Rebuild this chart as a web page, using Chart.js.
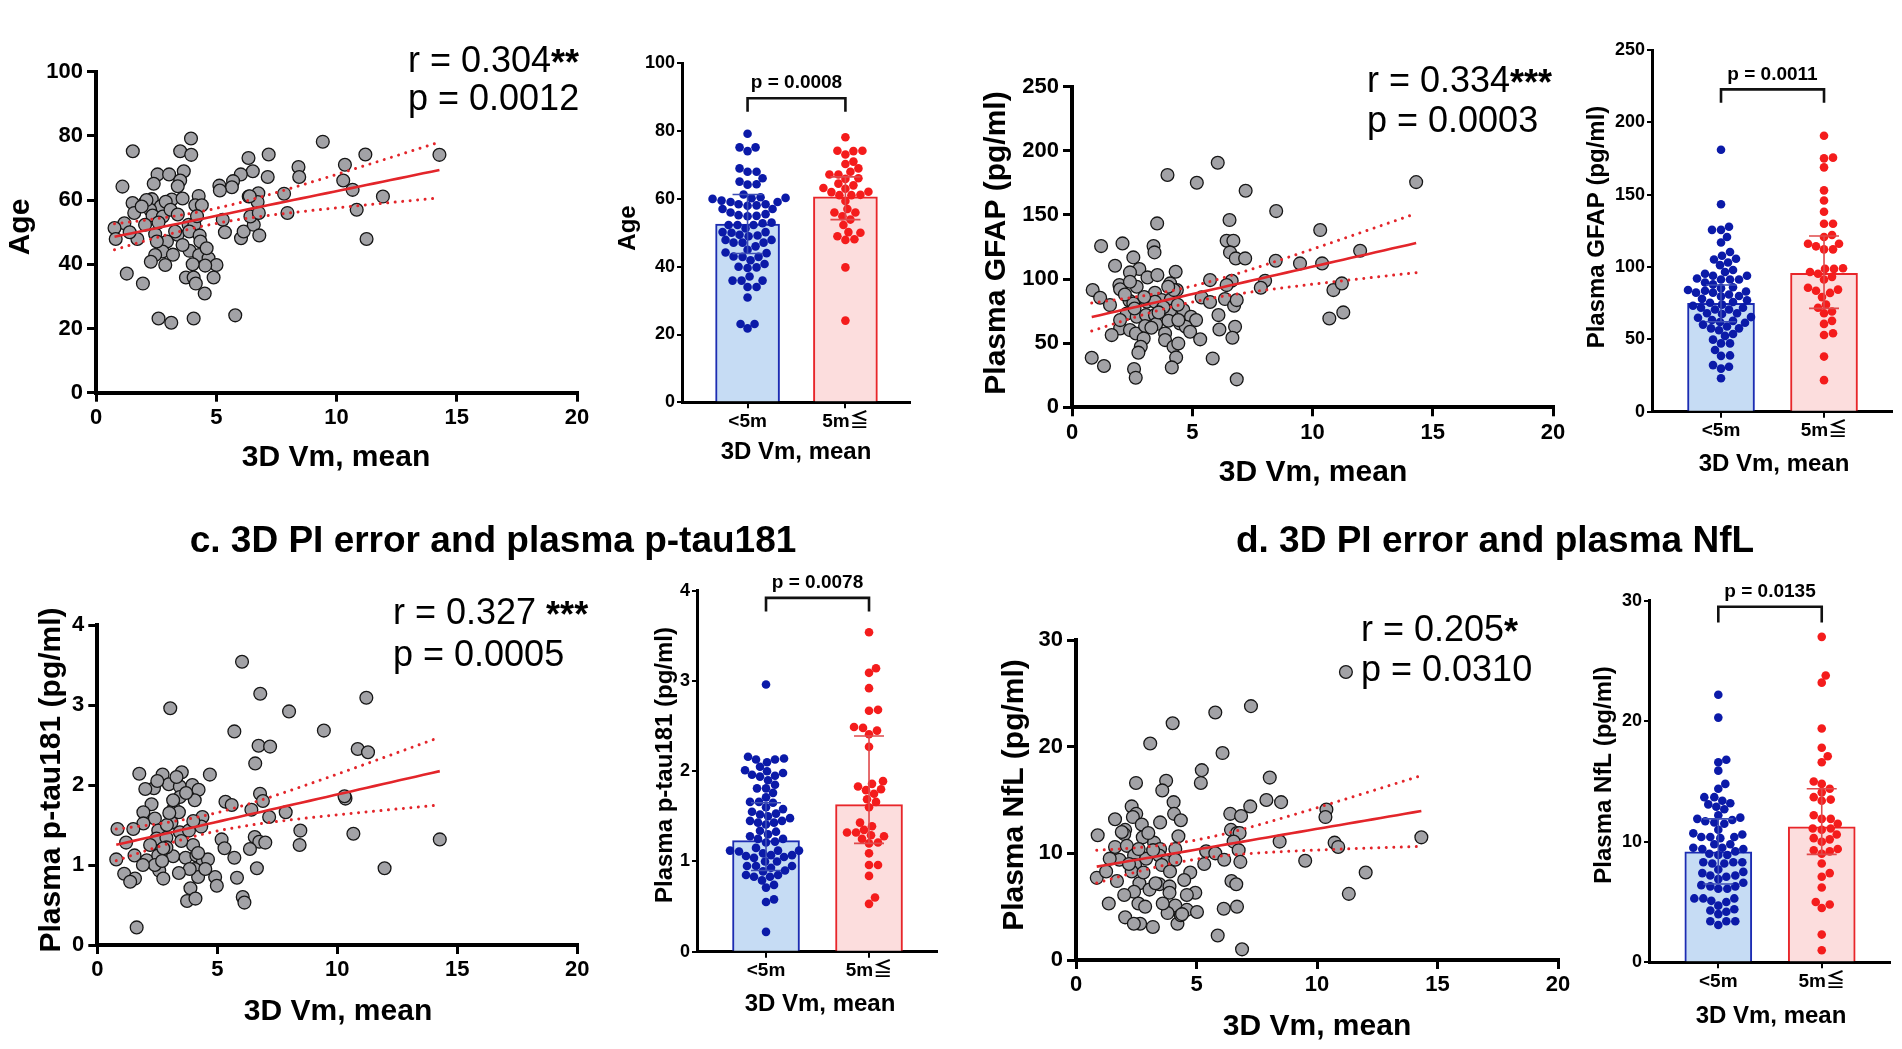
<!DOCTYPE html>
<html>
<head>
<meta charset="utf-8">
<script src="https://cdn.jsdelivr.net/npm/chart.js@4.4.1/dist/chart.umd.min.js"></script>
<style>
  body { margin: 0; background: #fff; width: 1902px; height: 1049px; overflow: hidden; position: relative; }
  canvas { position: absolute; left: 0; top: 0; }
</style>
</head>
<body>
<canvas id="scatterA" width="1902" height="1049"></canvas>
<canvas id="barA" width="1902" height="1049"></canvas>
<canvas id="scatterB" width="1902" height="1049"></canvas>
<canvas id="barB" width="1902" height="1049"></canvas>
<canvas id="scatterC" width="1902" height="1049"></canvas>
<canvas id="barC" width="1902" height="1049"></canvas>
<canvas id="scatterD" width="1902" height="1049"></canvas>
<canvas id="barD" width="1902" height="1049"></canvas>
<script>
// ---- data ----
const vmTicks = [0, 5, 10, 15, 20];
const groupLabels = ['<5m', '5m\u2266'];

// a. Age
const ageVm = [3.95,1.53,3.50,3.96,9.43,7.18,6.34,11.2,14.28,10.35,8.42,8.45,6.52,6.02,5.70,5.65,7.14,5.13,5.15,10.28,10.67,11.93,7.82,6.75,6.35,6.72,3.65,2.56,3.04,3.50,2.40,3.40,1.10,3.15,4.27,2.32,1.52,2.02,2.70,4.13,4.40,1.59,2.25,2.35,2.78,1.18,0.77,0.82,1.72,2.04,2.46,2.95,3.39,3.85,4.09,3.88,4.31,4.34,3.89,4.29,4.68,5.01,4.54,4.02,2.77,2.46,2.28,2.88,3.74,4.06,4.15,4.52,4.89,1.28,1.95,2.60,3.13,4.06,5.79,5.27,5.36,6.03,6.14,6.56,6.79,6.42,6.77,6.39,7.96,10.84,11.25,3.29,2.53,2.10,2.90,3.60,1.90,3.10,4.20,3.40,2.60,1.40,3.60,4.60,3.20];
const ageVal = [79.2,75.2,75.2,74.1,78.2,74.2,73.1,74.2,74.1,71.0,70.3,67.2,69.0,68.0,65.9,64.0,67.2,64.5,63.0,66.1,63.2,61.1,62.0,62.1,61.1,59.4,69.0,68.0,68.0,66.1,65.1,64.3,64.2,60.2,61.3,60.3,59.1,59.1,58.1,58.4,58.4,56.0,57.0,55.2,54.9,52.8,51.3,47.9,47.9,52.3,49.4,47.1,49.2,52.3,52.3,50.2,49.0,47.1,44.2,42.9,41.9,39.8,39.6,40.0,44.0,42.9,40.8,39.8,35.9,35.9,34.0,30.9,35.9,37.1,34.0,23.1,21.8,23.1,24.1,53.9,50.0,48.1,50.2,52.3,49.0,54.9,56.0,61.2,56.0,57.0,47.9,50.2,47.1,60.0,59.5,60.5,58.0,57.0,55.0,55.5,53.0,50.0,46.0,45.0,43.0];
const ageBar = [52.6, 60.6];
const ageBarLo = [43.9, 53.9];
const ageBarHi = [61.3, 66.5];

// b. Plasma GFAP
const gfapVm = [6.06,3.97,5.19,7.22,14.31,8.49,3.54,6.55,10.32,1.21,2.10,3.39,3.43,6.43,6.71,6.57,6.81,7.20,8.47,9.48,10.40,11.98,2.55,1.79,2.80,2.41,3.14,3.55,4.31,1.97,2.00,2.69,4.08,4.36,5.74,6.64,6.43,8.03,7.85,0.86,1.17,1.58,2.39,2.55,3.45,3.73,4.11,4.24,5.39,5.74,6.36,6.74,6.85,10.87,11.22,10.70,11.28,2.28,2.69,3.08,3.45,4.08,4.63,4.95,5.16,6.09,2.00,1.65,2.41,2.66,3.04,3.50,4.01,4.49,4.73,4.91,3.87,5.33,6.13,6.78,6.67,2.98,2.86,2.76,3.87,4.22,4.42,4.33,4.15,5.85,0.82,1.33,2.58,2.65,6.85,3.11,3.45,2.41,4.42,2.2,3.0,3.8,2.6,4.4,3.3,2.0,4.0,3.6];
const gfapVal = [190.7,181.1,175.1,168.9,175.6,153.0,143.4,146.0,138.2,125.7,127.8,125.7,120.8,129.9,129.9,120.8,116.1,116.1,114.3,112.2,112.2,122.1,116.9,110.4,107.8,105.2,101.3,103.1,105.7,95.3,92.1,94.0,96.6,91.4,99.2,98.7,95.3,98.7,93.2,91.4,85.4,79.7,83.1,81.0,89.3,83.6,84.1,91.4,85.7,82.1,84.4,79.2,83.6,91.4,96.6,69.3,74.0,73.2,70.6,71.9,71.9,75.3,75.8,70.6,68.0,71.9,61.5,56.3,60.2,57.6,63.4,64.9,67.5,65.4,62.8,58.9,57.6,53.0,60.7,62.8,54.2,53.7,47.2,42.6,52.4,47.2,49.8,38.9,31.1,38.1,38.6,32.2,29.8,23.1,21.8,82.3,82.3,97.9,68.0,88,86,78,77,80,62,68,94,74];
const gfapBar = [74.9, 95.6];
const gfapBarLo = [62.2, 71.4];
const gfapBarHi = [87.6, 121.4];

// c. Plasma p-tau181
const ptauVm = [6.03,6.79,3.04,11.21,7.99,5.71,9.44,6.72,7.20,6.58,10.85,11.28,1.75,2.72,3.52,4.69,2.36,2.98,3.44,3.96,4.22,3.44,4.06,5.34,6.78,6.42,7.16,7.85,10.34,2.26,1.92,3.19,3.40,2.40,1.92,3.09,4.38,0.84,2.54,3.44,3.82,4.33,1.20,2.47,2.88,3.99,5.18,5.30,6.56,6.75,6.36,8.46,8.43,10.67,14.27,0.79,1.55,2.06,2.54,3.16,3.68,4.13,4.40,4.61,5.71,6.65,11.97,1.12,1.57,2.58,2.75,4.06,4.20,4.91,4.98,5.82,3.88,3.74,4.09,6.06,6.13,1.64,1.37,2.40,2.88,3.16,2.75,3.85,6.9,5.6,7.0,10.3,2.0,2.5,3.3,3.7,2.9,3.5,4.2,1.9,2.7,3.4,4.5,2.2,3.0,4.0,1.5];
const ptauVal = [3.54,3.14,2.96,3.09,2.92,2.67,2.68,2.49,2.48,2.27,2.45,2.41,2.14,2.13,2.16,2.13,1.96,2.01,1.98,2.00,1.94,1.85,1.81,1.79,1.89,1.69,1.60,1.66,1.83,1.76,1.66,1.71,1.66,1.58,1.52,1.53,1.60,1.45,1.43,1.41,1.43,1.48,1.28,1.33,1.34,1.25,1.32,1.21,1.35,1.29,1.20,1.43,1.25,1.39,1.32,1.07,1.12,1.06,1.12,1.11,1.09,1.12,1.04,1.07,1.09,0.96,0.96,0.89,0.83,0.93,0.83,0.95,0.85,0.85,0.74,0.84,0.71,0.55,0.58,0.60,0.53,0.22,0.79,1.00,1.22,1.81,1.21,0.95,1.80,1.75,1.28,1.86,1.95,2.05,2.10,1.90,1.50,1.30,1.15,1.00,1.05,0.90,0.95,1.25,1.65,1.55,1.45];
const ptauBar = [1.23, 1.63];
const ptauBarLo = [0.90, 1.20];
const ptauBarHi = [1.65, 2.39];

// d. Plasma NfL
const nflVm = [7.26,5.78,4.01,3.08,6.08,5.22,5.18,8.04,2.49,3.74,3.58,7.90,8.51,4.05,2.31,2.50,2.36,1.62,2.73,3.49,4.07,4.35,6.40,6.85,7.23,10.39,10.35,2.04,2.00,2.77,4.25,6.43,6.68,6.79,0.90,3.24,1.62,2.11,3.49,4.12,5.40,5.78,6.54,6.75,8.45,10.73,10.88,14.33,1.80,2.41,2.91,3.45,3.74,4.12,2.45,3.56,5.32,6.15,6.82,9.51,0.86,1.25,2.31,4.74,4.49,2.63,3.46,3.88,6.45,6.65,12.02,2.41,3.05,3.88,4.95,11.32,1.36,2.59,2.87,4.12,4.60,5.02,6.13,6.68,3.80,2.04,2.66,3.19,4.21,4.35,5.88,6.89,11.2,1.9,3.0,2.6,3.2,1.4,2.2,3.9,2.8,1.7,3.3,4.6,2.0,3.6,4.4,2.4];
const nflVal = [23.8,23.2,22.2,20.3,19.4,17.8,16.6,17.1,16.6,16.8,15.9,15.0,14.8,14.8,14.4,13.7,13.4,13.2,12.7,12.9,13.7,13.1,13.7,13.5,14.4,14.1,13.4,12.2,11.8,11.5,11.6,12.2,11.9,11.9,11.7,11.0,10.6,10.7,10.4,10.4,10.2,10.0,11.1,10.3,11.1,11.0,10.6,11.5,9.4,9.8,9.5,9.8,9.2,9.4,8.9,8.9,9.0,9.4,9.2,9.3,7.7,8.3,8.3,8.2,7.5,7.2,7.1,6.9,7.4,7.1,8.2,6.4,6.6,6.3,6.3,6.2,5.3,5.3,5.0,5.1,4.7,4.5,4.8,5.0,4.4,4.0,3.4,3.1,3.4,4.2,2.3,1.0,27.0,12.0,11.9,10.4,10.3,9.5,9.0,8.3,8.2,7.4,7.2,6.1,6.1,5.3,4.3,3.4];
const nflBar = [9.17, 11.24];
const nflBarLo = [6.5, 8.95];
const nflBarHi = [11.9, 14.4];

// ---- look ----
const W = 1902, H = 1049;
const FONT = "'Liberation Sans', Arial, 'Noto Sans CJK JP', sans-serif";
const RED = '#e3252a';
const GRAY = '#a2a2a6';
const BLUE_DOT = '#0b1aa8', RED_DOT = '#f41c1c';
const BLUE_FILL = '#c6dcf4', RED_FILL = '#fcdddd';
const BLUE_EDGE = '#1c2cb2', RED_EDGE = '#e8262a';
const BLUE_ERR = '#3c4db6', RED_ERR = '#e0494b';
const XMIN = -0.67, XMAX = 1.66;

function padFor(box, yW, xH) {
  return { left: box.l - yW, right: W - box.r, top: box.t, bottom: H - box.b - xH };
}

// least squares fit with 95% band, from the points themselves
function regression(xs, ys) {
  const n = xs.length;
  const mx = xs.reduce((a, b) => a + b, 0) / n;
  const my = ys.reduce((a, b) => a + b, 0) / n;
  let sxx = 0, sxy = 0;
  xs.forEach((x, i) => { sxx += (x - mx) ** 2; sxy += (x - mx) * (ys[i] - my); });
  const b = sxy / sxx, a = my - b * mx;
  let sse = 0;
  xs.forEach((x, i) => { sse += (ys[i] - a - b * x) ** 2; });
  const s = Math.sqrt(sse / (n - 2)), t = 1.983;
  const lo = Math.min(...xs), hi = Math.max(...xs);
  const line = [], up = [], dn = [];
  for (let i = 0; i <= 40; i++) {
    const x = lo + (hi - lo) * i / 40;
    const yh = a + b * x;
    const se = s * Math.sqrt(1 / n + (x - mx) ** 2 / sxx);
    line.push({ x, y: yh }); up.push({ x, y: yh + t * se }); dn.push({ x, y: yh - t * se });
  }
  return { line, up, dn };
}

// simple beeswarm, offsets found in pixels
function swarm(vals, center, pxY, pxX, minD) {
  const idx = vals.map((v, i) => i).sort((a, b) => vals[a] - vals[b]);
  const placed = [], out = [];
  idx.forEach(i => {
    const py = vals[i] * pxY;
    for (let k = 0; k < 400; k++) {
      const off = (k % 2 ? 1 : -1) * Math.ceil(k / 2);
      if (placed.every(p => (p.x - off) ** 2 + (p.y - py) ** 2 >= minD * minD)) {
        placed.push({ x: off, y: py });
        out.push({ x: center + off / pxX, y: vals[i] });
        break;
      }
    }
  });
  return out;
}

const textPlugin = {
  id: 'panelText',
  afterDraw(chart, args, opts) {
    const ctx = chart.ctx;
    (opts.items || []).forEach(it => {
      ctx.save();
      ctx.translate(it.x, it.y);
      if (it.rot) ctx.rotate(-Math.PI / 2);
      ctx.fillStyle = '#000';
      ctx.textBaseline = 'middle';
      ctx.textAlign = 'left';
      const mainFont = (it.bold ? 'bold ' : '') + it.size + 'px ' + FONT;
      const sufFont = 'bold ' + it.size + 'px ' + FONT;
      ctx.font = mainFont;
      const w1 = ctx.measureText(it.t).width;
      ctx.font = sufFont;
      const w2 = it.suffix ? ctx.measureText(it.suffix).width : 0;
      let x0 = it.align === 'center' ? -(w1 + w2) / 2 : 0;
      ctx.font = mainFont;
      ctx.fillText(it.t, x0, 0);
      if (it.suffix) { ctx.font = sufFont; ctx.fillText(it.suffix, x0 + w1, 3); }
      ctx.restore();
    });
  }
};

const barMarks = {
  id: 'barMarks',
  afterDatasetsDraw(chart, args, o) {
    const ctx = chart.ctx, xs = chart.scales.x, ys = chart.scales.y;
    [0, 1].forEach(i => {
      const x = xs.getPixelForValue(i);
      const y1 = ys.getPixelForValue(o.lo[i]), y2 = ys.getPixelForValue(o.hi[i]);
      ctx.save();
      ctx.strokeStyle = i === 0 ? BLUE_ERR : RED_ERR;
      ctx.lineWidth = 1.6;
      ctx.beginPath();
      ctx.moveTo(x, y1); ctx.lineTo(x, y2);
      ctx.moveTo(x - 15, y1); ctx.lineTo(x + 15, y1);
      ctx.moveTo(x - 15, y2); ctx.lineTo(x + 15, y2);
      ctx.stroke();
      ctx.restore();
    });
    const xa = xs.getPixelForValue(0), xb = xs.getPixelForValue(1);
    const yt = ys.getPixelForValue(o.bracket[0]), ye = ys.getPixelForValue(o.bracket[1]);
    ctx.save();
    ctx.strokeStyle = '#111';
    ctx.lineWidth = 2.6;
    ctx.beginPath();
    ctx.moveTo(xa, ye); ctx.lineTo(xa, yt); ctx.lineTo(xb, yt); ctx.lineTo(xb, ye);
    ctx.stroke();
    ctx.fillStyle = '#000';
    ctx.font = 'bold 19px ' + FONT;
    ctx.textAlign = 'center';
    ctx.textBaseline = 'middle';
    ctx.fillText(o.p, (xa + xb) / 2, yt - 15);
    ctx.restore();
  }
};

function scatterChart(id, p) {
  const fit = regression(p.xs, p.ys);
  const tickFont = { family: FONT, size: 22, weight: 'bold' };
  new Chart(document.getElementById(id), {
    type: 'scatter',
    data: {
      datasets: [
        { type: 'line', data: fit.line, borderColor: RED, borderWidth: 2.6, pointRadius: 0, fill: false, clip: false },
        { type: 'line', data: fit.up, borderColor: RED, borderWidth: 3, borderDash: [0.01, 7.5], borderCapStyle: 'round', pointRadius: 0, fill: false, clip: false },
        { type: 'line', data: fit.dn, borderColor: RED, borderWidth: 3, borderDash: [0.01, 7.5], borderCapStyle: 'round', pointRadius: 0, fill: false, clip: false },
        { data: p.xs.map((x, i) => ({ x, y: p.ys[i] })), backgroundColor: GRAY, borderColor: '#161616', borderWidth: 1.3, pointRadius: 6.4, clip: false }
      ]
    },
    options: {
      responsive: false, animation: false, events: [],
      layout: { padding: padFor(p.box, 70, 50) },
      plugins: { legend: { display: false }, tooltip: { enabled: false }, panelText: { items: p.texts } },
      scales: {
        x: {
          type: 'linear', min: 0, max: 20,
          afterBuildTicks: s => { s.ticks = vmTicks.map(v => ({ value: v })); },
          afterFit: s => { s.height = 50; },
          border: { display: true, color: '#000', width: 4 },
          grid: { drawOnChartArea: false, color: '#000', lineWidth: 3, tickLength: 9 },
          ticks: { font: tickFont, color: '#000', padding: 3, maxRotation: 0 }
        },
        y: {
          type: 'linear', min: 0, max: p.yMax,
          afterFit: s => { s.width = 70; },
          border: { display: true, color: '#000', width: 4 },
          grid: { drawOnChartArea: false, color: '#000', lineWidth: 3, tickLength: 9 },
          ticks: { font: tickFont, color: '#000', padding: 4, stepSize: p.yStep }
        }
      }
    },
    plugins: [textPlugin]
  });
}

function barChart(id, p) {
  const box = p.box;
  const pxX = (box.r - box.l) / (XMAX - XMIN);
  const pxY = (box.b - box.t) / p.yMax;
  const g0 = p.ys.filter((v, i) => p.xs[i] < 5);
  const g1 = p.ys.filter((v, i) => p.xs[i] >= 5);
  const tickFont = { family: FONT, size: 18, weight: 'bold' };
  new Chart(document.getElementById(id), {
    type: 'scatter',
    data: {
      datasets: [
        { data: swarm(g0, 0, pxY, pxX, 8.2), backgroundColor: BLUE_DOT, borderWidth: 0, pointRadius: 4.3, clip: false },
        { data: swarm(g1, 1, pxY, pxX, 8.2), backgroundColor: RED_DOT, borderWidth: 0, pointRadius: 4.3, clip: false },
        { type: 'bar', data: p.bar.map((v, i) => ({ x: i, y: v })), backgroundColor: [BLUE_FILL, RED_FILL],
          borderColor: [BLUE_EDGE, RED_EDGE], borderWidth: 2, barThickness: p.barW }
      ]
    },
    options: {
      responsive: false, animation: false, events: [],
      layout: { padding: padFor(box, 60, 40) },
      plugins: {
        legend: { display: false }, tooltip: { enabled: false },
        panelText: { items: p.texts },
        barMarks: { lo: p.lo, hi: p.hi, bracket: p.bracket, p: p.p }
      },
      scales: {
        x: {
          type: 'linear', min: XMIN, max: XMAX, offset: false,
          afterBuildTicks: s => { s.ticks = [{ value: 0 }, { value: 1 }]; },
          afterFit: s => { s.height = 40; },
          border: { display: true, color: '#000', width: 3 },
          grid: { drawOnChartArea: false, offset: false, color: '#000', lineWidth: 2, tickLength: 6 },
          ticks: { font: { family: FONT, size: 19, weight: 'bold' }, color: '#000', padding: 2, maxRotation: 0,
                   callback: v => groupLabels[v] }
        },
        y: {
          type: 'linear', min: 0, max: p.yMax,
          afterFit: s => { s.width = 60; },
          border: { display: true, color: '#000', width: 3 },
          grid: { drawOnChartArea: false, color: '#000', lineWidth: 2, tickLength: 5 },
          ticks: { font: tickFont, color: '#000', padding: 2, stepSize: p.yStep }
        }
      }
    },
    plugins: [textPlugin, barMarks]
  });
}

const xTitle = '3D Vm, mean';

// panel a
scatterChart('scatterA', {
  xs: ageVm, ys: ageVal, yMax: 100, yStep: 20,
  box: { l: 96, r: 577, t: 71.7, b: 392.7 },
  texts: [
    { t: 'r = 0.304', suffix: '**', x: 408, y: 62, size: 36 },
    { t: 'p = 0.0012', x: 408, y: 100, size: 36 },
    { t: 'Age', x: 21, y: 227, size: 30, bold: true, rot: true, align: 'center' },
    { t: xTitle, x: 336, y: 458, size: 30, bold: true, align: 'center' }
  ]
});
barChart('barA', {
  xs: ageVm, ys: ageVal, yMax: 100, yStep: 20, barW: 64,
  bar: ageBar, lo: ageBarLo, hi: ageBarHi, bracket: [89.7, 85.7], p: 'p = 0.0008',
  box: { l: 682, r: 910, t: 63.3, b: 402.3 },
  texts: [
    { t: 'Age', x: 628, y: 228, size: 24, bold: true, rot: true, align: 'center' },
    { t: xTitle, x: 796, y: 452, size: 24, bold: true, align: 'center' }
  ]
});

// panel b
scatterChart('scatterB', {
  xs: gfapVm, ys: gfapVal, yMax: 250, yStep: 50,
  box: { l: 1072, r: 1553, t: 86.7, b: 407.3 },
  texts: [
    { t: 'r = 0.334', suffix: '***', x: 1367, y: 82, size: 36 },
    { t: 'p = 0.0003', x: 1367, y: 122, size: 36 },
    { t: 'Plasma GFAP (pg/ml)', x: 997, y: 243, size: 30, bold: true, rot: true, align: 'center' },
    { t: xTitle, x: 1313, y: 473, size: 30, bold: true, align: 'center' }
  ]
});
barChart('barB', {
  xs: gfapVm, ys: gfapVal, yMax: 250, yStep: 50, barW: 67,
  bar: gfapBar, lo: gfapBarLo, hi: gfapBarHi, bracket: [222.8, 213.5], p: 'p = 0.0011',
  box: { l: 1652, r: 1892, t: 50, b: 411.7 },
  texts: [
    { t: 'Plasma GFAP (pg/ml)', x: 1597, y: 227, size: 24, bold: true, rot: true, align: 'center' },
    { t: xTitle, x: 1774, y: 464, size: 24, bold: true, align: 'center' }
  ]
});

// panel c
scatterChart('scatterC', {
  xs: ptauVm, ys: ptauVal, yMax: 4, yStep: 1,
  box: { l: 97.3, r: 577.3, t: 625, b: 945 },
  texts: [
    { t: 'c. 3D PI error and plasma p-tau181', x: 493, y: 542, size: 37, bold: true, align: 'center' },
    { t: 'r = 0.327 ', suffix: '***', x: 393, y: 614, size: 36 },
    { t: 'p = 0.0005', x: 393, y: 656, size: 36 },
    { t: 'Plasma p-tau181 (pg/ml)', x: 52, y: 780, size: 30, bold: true, rot: true, align: 'center' },
    { t: xTitle, x: 338, y: 1012, size: 30, bold: true, align: 'center' }
  ]
});
barChart('barC', {
  xs: ptauVm, ys: ptauVal, yMax: 4, yStep: 1, barW: 67,
  bar: ptauBar, lo: ptauBarLo, hi: ptauBarHi, bracket: [3.92, 3.77], p: 'p = 0.0078',
  box: { l: 697, r: 937, t: 590.7, b: 951.7 },
  texts: [
    { t: 'Plasma p-tau181 (pg/ml)', x: 665, y: 765, size: 24, bold: true, rot: true, align: 'center' },
    { t: xTitle, x: 820, y: 1004, size: 24, bold: true, align: 'center' }
  ]
});

// panel d
scatterChart('scatterD', {
  xs: nflVm, ys: nflVal, yMax: 30, yStep: 10,
  box: { l: 1076, r: 1558, t: 640, b: 960 },
  texts: [
    { t: 'd. 3D PI error and plasma NfL', x: 1495, y: 542, size: 37, bold: true, align: 'center' },
    { t: 'r = 0.205', suffix: '*', x: 1361, y: 631, size: 36 },
    { t: 'p = 0.0310', x: 1361, y: 671, size: 36 },
    { t: 'Plasma NfL (pg/ml)', x: 1015, y: 795, size: 30, bold: true, rot: true, align: 'center' },
    { t: xTitle, x: 1317, y: 1027, size: 30, bold: true, align: 'center' }
  ]
});
barChart('barD', {
  xs: nflVm, ys: nflVal, yMax: 30, yStep: 10, barW: 67,
  bar: nflBar, lo: nflBarLo, hi: nflBarHi, bracket: [29.5, 28.2], p: 'p = 0.0135',
  box: { l: 1649, r: 1890, t: 600.7, b: 962.3 },
  texts: [
    { t: 'Plasma NfL (pg/ml)', x: 1604, y: 775, size: 24, bold: true, rot: true, align: 'center' },
    { t: xTitle, x: 1771, y: 1016, size: 24, bold: true, align: 'center' }
  ]
});
</script>
</body>
</html>
